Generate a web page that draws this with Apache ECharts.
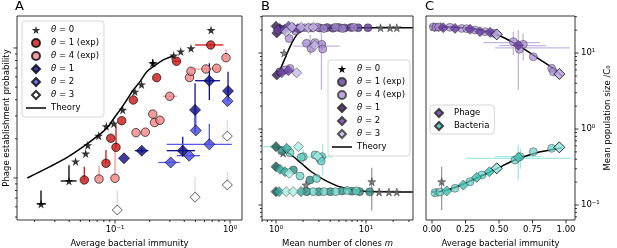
<!DOCTYPE html>
<html><head><meta charset="utf-8">
<script src="https://cdn.jsdelivr.net/npm/echarts@6/dist/echarts.min.js"></script>
<style>html,body{margin:0;padding:0;background:#fff}#c{width:617px;height:248px}</style>
</head><body><div id="c"></div>
<script>
// ================= DATA =================
// Panel A  (x: average bacterial immunity, y: establishment probability)
const aTheory = [[0.01726,0.0100],[0.0272,0.01222],[0.0393,0.01459],[0.053,0.01741],[0.0693,0.0208],[0.0847,0.0241],[0.1,0.0296],[0.1105,0.0333],[0.1265,0.0398],[0.144,0.0475],[0.165,0.0551],[0.189,0.0657],[0.2155,0.0718],[0.263,0.0809],[0.321,0.0868]];
const aTheta0 = [[0.02274,0.00631],[0.0398,0.00948],[0.0454,0.0134],[0.0556,0.01542],[0.058,0.01786],[0.0721,0.02113],[0.084,0.025],[0.0975,0.02618],[0.1167,0.0334],[0.149,0.0461],[0.17,0.0524],[0.213,0.0767],[0.324,0.0875],[0.3727,0.094],[0.458,0.0995],[0.684,0.1375]];
const aTheta1exp = [[0.0541,0.00966],[0.0835,0.01297],[0.0918,0.0202],[0.102,0.0172],[0.1144,0.0276],[0.1443,0.0398],[0.2305,0.0591],[0.3426,0.079],[0.679,0.1055]];
const aTheta4exp = [[0.0726,0.00982],[0.1,0.00995],[0.1523,0.0223],[0.1834,0.0225],[0.213,0.031],[0.2206,0.0267],[0.246,0.0278],[0.299,0.0425],[0.4446,0.0593],[0.458,0.0662],[0.618,0.0689],[0.766,0.0698],[0.923,0.0842]];
const aTheta1 = [[0.1198,0.01418],[0.1706,0.01622],[0.388,0.01622],[0.4966,0.0334],[0.661,0.056],[0.961,0.0467]];
const aTheta2 = [[0.305,0.01316],[0.4416,0.01485],[0.504,0.0232],[0.661,0.01816],[0.951,0.039]];
const aTheta3 = [[0.1047,0.00567],[0.4966,0.00711],[0.947,0.00884],[0.947,0.021]];
// error bars: [x, y, xlo, xhi, ylo, yhi]
const aErr0 = [[0.02274,0.00631,0.0209,0.0251,0.00631,0.0080],[0.0398,0.00948,0.0337,0.0464,0.00948,0.01254],[0.213,0.0767,0.200,0.230,0.072,0.082]];
const aErr1exp = [[0.0541,0.00966,null,null,0.00966,0.01222],[0.0835,0.01297,null,null,0.01297,0.0164],[0.102,0.0172,null,null,0.0172,0.0258],[0.679,0.1055,0.496,0.875,null,null],[0.3426,0.079,0.32,0.37,null,null]];
const aErr4exp = [[0.0726,0.00982,null,null,0.00982,0.01244],[0.1,0.00995,null,null,0.00995,0.0174],[0.299,0.0425,0.2614,0.346,null,null],[0.618,0.0689,0.45,0.818,null,null],[0.923,0.0842,null,null,0.0842,0.098]];
const aErr1 = [[0.1706,0.01622,0.149,0.195,0.0155,0.017],[0.388,0.01622,0.2816,0.4966,0.01459,0.0208],[0.4966,0.0334,null,null,0.0221,0.0535],[0.661,0.056,0.4966,0.8186,0.0398,0.0762],[0.961,0.0467,null,null,0.039,0.0657]];
const aErr2 = [[0.305,0.01316,0.238,0.367,null,null],[0.4416,0.01485,0.344,0.548,null,null],[0.504,0.0232,null,null,0.0232,0.0334],[0.661,0.01816,0.2816,1.035,0.01816,0.026],[0.951,0.039,null,null,0.039,0.0467]];
const aErr3 = [[0.1047,0.00567,null,null,0.00567,0.00794],[0.4966,0.00711,null,null,0.00711,0.01023],[0.947,0.00884,null,null,0.00884,0.0111],[0.947,0.021,null,null,0.021,0.028]];

// Panel B (x: mean number of clones m, y: mean population size / C0)
const bTheoryPhage = [[1.088,5.67],[1.259,8.51],[1.494,13.4],[1.77,18.2],[2.193,20.5],[3.08,21.1],[5,21.4],[10,21.5],[33,21.5]];
const bTheoryBact = [[1.196,0.53],[1.479,0.455],[1.91,0.354],[2.47,0.274],[3.48,0.213],[5.32,0.171],[8.15,0.154],[15,0.149],[33,0.148]];
const bPhageD1 = [[1.0,22.5],[1.02,18.3],[1.1,21.0],[1.02,5.13]];
const bPhageD2 = [[1.05,20.0],[1.25,20.5],[1.38,22.5],[1.55,21.5],[1.75,21.0],[1.157,5.5],[1.37,5.85]];
const bPhageD3 = [[1.3,19.0],[1.5,22.0],[1.9,21.8],[2.3,21.5],[2.6,21.8],[1.7,5.5],[2.7,12.6]];
const bPhageC1 = [[1.15,20.5],[1.8,21.0],[2.5,21.5],[3.1,21.3],[3.7,21.6],[4.3,21.2],[5.0,21.7],[5.8,21.4],[6.8,21.6],[8.2,21.5],[10.5,21.5],[1.108,5.68]];
const bPhageC4 = [[1.4,15.5],[1.65,19.5],[2.1,21.5],[2.9,21.8],[3.4,21.0],[4.6,21.8],[5.5,21.0],[7.3,21.8],[1.26,5.98],[1.43,6.27],[2.19,13.4],[2.71,13.7],[3.22,13.0],[3.3,11.3],[2.45,11.5]];
const bPhageStar = [[2.3,22.0],[14.5,21.5],[18.5,21.5],[22,21.5],[1.23,10.0]];
const bBactD1 = [[1.0,0.586],[1.0,0.319],[1.0,0.15]];
const bBactD2 = [[1.31,0.557],[1.108,0.295],[1.26,0.274],[1.08,0.15],[1.9,0.15]];
const bBactD3 = [[1.77,0.586],[1.405,0.261],[1.3,0.15],[1.55,0.15],[2.9,0.44]];
const bBactC1 = [[1.157,0.518],[1.56,0.289],[2.385,0.213],[2.2,0.15],[3.0,0.15],[4.0,0.15],[5.4,0.153],[7.0,0.152],[8.5,0.15],[11,0.149]];
const bBactC4 = [[1.43,0.488],[2.01,0.432],[2.71,0.455],[3.22,0.432],[1.85,0.241],[2.83,0.224],[1.91,0.424],[3.06,0.41],[2.6,0.15],[3.4,0.15],[4.6,0.15],[6.2,0.155],[7.8,0.153],[3.18,0.38]];
const bBactStar = [[1.2,0.483],[2.15,0.184],[11.6,0.203],[14,0.148],[18,0.148],[22,0.148]];
const bErrPhage = [[3.2,12.3,1.55,5.1,3.26,18.3],[2.4,13.4,1.9,3.6,9.4,17.3]];
const bErrBact = [[1.0,0.586,0.7,1.5,null,null],[3.3,0.43,1.6,4.2,0.25,0.62],[2.0,0.43,null,null,0.35,0.55],[1.3,0.3,1.1,1.6,null,null]];
const bErrStar = [[11.6,0.203,null,null,0.085,0.31]];

// Panel C (x: average bacterial immunity, y: mean population size / C0)
const cTheoryPhage = [[0,22.2],[0.25,21.5],[0.4,19.5],[0.5,17.0],[0.6,13.9],[0.7,10.9],[0.8,8.34],[0.9,6.35],[0.97,4.98]];
const cTheoryBact = [[0,0.148],[0.1,0.155],[0.2,0.178],[0.3,0.213],[0.4,0.256],[0.5,0.311],[0.6,0.379],[0.7,0.441],[0.8,0.498],[0.9,0.537],[0.97,0.562]];
const cPhageDiamond = [[0.084,21.5],[0.172,21.1],[0.284,20.5],[0.358,19.1],[0.433,18.7],[0.644,12.7]];
const cPhageBig = [[0.483,17.6],[0.95,5.3]];
const cPhageCircle = [[0.01,22.0],[0.03,21.9],[0.05,22.0],[0.134,21.8],[0.222,21.1],[0.259,20.9],[0.321,20.1],[0.396,19.1],[0.458,18.2],[0.607,14.1],[0.681,13.0],[0.652,11.2],[0.756,8.94],[0.893,6.29],[0.905,5.68]];
const cPhageStar = [[0.01,22.2],[0.035,21.6],[0.065,22.3]];
const cBactDiamond = [[0.11,0.153],[0.234,0.183],[0.333,0.231],[0.428,0.274],[0.644,0.424]];
const cBactBig = [[0.483,0.304],[0.95,0.574]];
const cBactCircle = [[0.022,0.145],[0.06,0.148],[0.172,0.166],[0.284,0.203],[0.371,0.248],[0.619,0.39],[0.657,0.432],[0.756,0.503],[0.893,0.557]];
const cBactStar = [[0.072,0.203],[0.03,0.147]];
const cErrPhage = [[0.607,13.7,0.383,0.806,null,null],[0.652,11.7,0.47,1.03,null,null],[0.644,12.7,null,null,3.26,20.1],[0.607,14.1,null,null,9.4,19.1],[0.68,12.5,0.5,0.85,8,18]];
const cErrBact = [[0.65,0.412,0.259,1.03,null,null],[0.64,0.432,0.47,0.81,null,null],[0.644,0.42,null,null,0.213,0.616],[0.66,0.43,null,null,0.3,0.55],[0.3,0.21,0.26,0.34,0.19,0.23],[0.4,0.25,0.36,0.44,0.23,0.28]];
const cErrStar = [[0.072,0.203,null,null,0.0858,0.319]];

const cXTicks = [0, 0.25, 0.5, 0.75, 1.0];

// axis ranges
const aX = [0.01406, 1.271], aY = [0.00475, 0.1762];
const bX = [0.699, 33.3], popY = [0.0635, 30.7];
const cX = [-0.0448, 1.067];

// ================= CHART =================
const FONT = 'DejaVu Sans';
const STAR = 'path://M50,0 L61,35 L98,35 L68,57 L79,91 L50,70 L21,91 L32,57 L2,35 L39,35 Z';
const DIAM = 'path://M5,0 L10,5 L5,10 L0,5 Z';
const LINE = 'path://M0,0 L20,0 L20,1.5 L0,1.5 Z';
const SUP = {'-':'\u207B','0':'\u2070','1':'\u00B9','2':'\u00B2','3':'\u00B3'};
function decadeLabel(v){ const e=Math.log10(v), r=Math.round(e); if(Math.abs(e-r)>1e-6) return ''; return '10'+String(r).split('').map(c=>SUP[c]).join(''); }
function logTicks(r){ const out=[]; for(let e=Math.floor(Math.log10(r[0])); e<=Math.ceil(Math.log10(r[1])); e++){ for(let k=1;k<=9;k++){ const v=k*Math.pow(10,e); if(v>=r[0]&&v<=r[1]) out.push([v,k===1?3.5:2]); } } return out; }

function tickSeries(idx, dir, ticks, ref){
  return {type:'custom', xAxisIndex:idx, yAxisIndex:idx, silent:true, clip:false, z:10,
    data: ticks.map(t => dir==='x' ? [t[0], ref, t[1]] : [ref, t[0], t[1]]),
    renderItem(params, api){
      const cs = params.coordSys; const len = api.value(2);
      const p = api.coord([api.value(0), api.value(1)]);
      let s;
      if(dir==='x'){ const yb=cs.y+cs.height; s={x1:p[0],y1:yb,x2:p[0],y2:yb+len}; }
      else if(dir==='yl'){ s={x1:cs.x,y1:p[1],x2:cs.x-len,y2:p[1]}; }
      else { const xr=cs.x+cs.width; s={x1:xr,y1:p[1],x2:xr+len,y2:p[1]}; }
      return {type:'line', shape:s, style:{stroke:'#000', lineWidth:0.8}};
    }};
}
function errSeries(data, color, idx, width, opacity){
  return {type:'custom', xAxisIndex:idx, yAxisIndex:idx, silent:true, clip:true, z:1, data,
    encode:{x:0,y:1},
    renderItem(params, api){
      const x=api.value(0), y=api.value(1), xl=api.value(2), xh=api.value(3), yl=api.value(4), yh=api.value(5);
      const st={stroke:color, lineWidth:width, opacity:opacity};
      const ch=[];
      const okX = isFinite(xl)&&isFinite(xh)&&(idx===2 || (xl>0&&xh>0));
      if(okX){ const a=api.coord([xl,y]), b=api.coord([xh,y]); ch.push({type:'line',shape:{x1:a[0],y1:a[1],x2:b[0],y2:b[1]},style:st}); }
      if(isFinite(yl)&&isFinite(yh)&&yl>0&&yh>0){ const a=api.coord([x,yl]), b=api.coord([x,yh]); ch.push({type:'line',shape:{x1:a[0],y1:a[1],x2:b[0],y2:b[1]},style:st}); }
      return {type:'group', children:ch};
    }};
}
function sc(name, data, idx, symbol, size, color, extra){
  return Object.assign({type:'scatter', name, data, xAxisIndex:idx, yAxisIndex:idx, symbol, symbolSize:size, silent:true, z:3,
    itemStyle:{color, borderColor:'#000', borderWidth:0.8}}, extra||{});
}
function theory(name, data, idx){
  return {type:'line', name, data, xAxisIndex:idx, yAxisIndex:idx, symbol:'none', smooth:0.35, silent:true, z:2,
    lineStyle:{color:'#000', width:1.5}, itemStyle:{color:'#000'}};
}
const soft = (c, op) => ({itemStyle:{color:c, borderColor:'#2a2a2a', borderWidth:0.6, opacity:op}});

const P = {d1:'#3d2459', d2:'#6b42a8', d3:'#c8b8e8', c1:'#5e3d92', c4:'#a68ad4'};
const T = {d1:'#1d5f58', d2:'#37a99c', d3:'#aaf0e6', c1:'#2f8d84', c4:'#66d2c6'};

const txt = {fontFamily:FONT, fontSize:8.5, color:'#000'};
const legendFmt = n => n.split('#')[0].replace('\u03B8','{it|\u03B8}');
const legendBase = {orient:'vertical', itemWidth:20, itemHeight:8, itemGap:3, padding:[4,5,4,4], symbolKeepAspect:true,
  backgroundColor:'rgba(255,255,255,0.9)', borderColor:'#cccccc', borderWidth:0.8, borderRadius:3, selectedMode:false,
  formatter: legendFmt, textStyle:Object.assign({}, txt, {lineHeight:10, rich:{it:{fontFamily:FONT, fontSize:8.5, fontStyle:'italic', lineHeight:10}}})};
const L = (name, icon, extra) => Object.assign({name, icon}, extra||{});

const gridBase = {show:true, borderColor:'#000', borderWidth:0.8, backgroundColor:'transparent', containLabel:false, outerBoundsMode:'none'};
const logAxis = (gi, r, extra) => Object.assign({type:'log', logBase:10, gridIndex:gi, min:r[0], max:r[1],
  axisLine:{show:false}, axisTick:{show:false}, splitLine:{show:false}, minorTick:{show:false},
  axisLabel:{show:false}, nameTextStyle:txt}, extra||{});

const option = {
  animation:false,
  backgroundColor:'#fff',
  title:[
    {text:'A', left:15, top:0, padding:0, textStyle:{fontFamily:FONT, fontSize:13, fontWeight:'normal', color:'#000'}},
    {text:'B', left:261, top:0, padding:0, textStyle:{fontFamily:FONT, fontSize:13, fontWeight:'normal', color:'#000'}},
    {text:'C', left:425, top:0, padding:0, textStyle:{fontFamily:FONT, fontSize:13, fontWeight:'normal', color:'#000'}}
  ],
  grid:[
    Object.assign({left:17, top:16, width:225, height:204}, gridBase),
    Object.assign({left:262, top:16, width:151, height:204}, gridBase),
    Object.assign({left:426, top:16, width:149, height:204}, gridBase)
  ],
  xAxis:[
    logAxis(0, aX, {name:'Average bacterial immunity', nameLocation:'middle', nameGap:15,
      axisLabel:{show:true, formatter:decadeLabel, margin:5, fontFamily:FONT, fontSize:8.5, color:'#000', showMinLabel:false, showMaxLabel:false}}),
    logAxis(1, bX, {name:'Mean number of clones {i|m}', nameLocation:'middle', nameGap:15,
      nameTextStyle:Object.assign({}, txt, {rich:{i:{fontFamily:FONT, fontSize:8.5, fontStyle:'italic'}}}),
      axisLabel:{show:true, formatter:decadeLabel, margin:5, fontFamily:FONT, fontSize:8.5, color:'#000', showMinLabel:false, showMaxLabel:false}}),
    {type:'value', gridIndex:2, min:cX[0], max:cX[1], axisLine:{show:false}, axisTick:{show:false}, splitLine:{show:false},
      name:'Average bacterial immunity', nameLocation:'middle', nameGap:15, nameTextStyle:txt,
      axisLabel:{show:true, customValues:cXTicks, formatter:v=>Number(v).toFixed(2), margin:5, fontFamily:FONT, fontSize:8.5, color:'#000'}}
  ],
  yAxis:[
    logAxis(0, aY, {name:'Phage establishment probability', nameLocation:'middle', nameGap:6, nameRotate:90}),
    logAxis(1, popY),
    logAxis(2, popY, {position:'right', name:'Mean population size /C\u2080', nameLocation:'middle', nameGap:26, nameRotate:90,
      axisLabel:{show:true, formatter:decadeLabel, margin:6, fontFamily:FONT, fontSize:8.5, color:'#000', showMinLabel:false, showMaxLabel:false}})
  ],
  legend:[
    Object.assign({}, legendBase, {left:22, top:21,
      data:[L('\u03B8 = 0#A',STAR), L('\u03B8 = 1 (exp)#A','circle'), L('\u03B8 = 4 (exp)#A','circle'),
            L('\u03B8 = 1#A',DIAM), L('\u03B8 = 2#A',DIAM), L('\u03B8 = 3#A',DIAM), L('Theory#A',LINE)]}),
    Object.assign({}, legendBase, {left:328, top:60,
      data:[L('\u03B8 = 0#B',STAR,{itemStyle:{color:'#000', opacity:1, borderWidth:0}}), L('\u03B8 = 1 (exp)#B','circle'), L('\u03B8 = 4 (exp)#B','circle'),
            L('\u03B8 = 1#B',DIAM), L('\u03B8 = 2#B',DIAM), L('\u03B8 = 3#B',DIAM), L('Theory#B',LINE)]}),
    Object.assign({}, legendBase, {left:430, top:105, padding:[3,5,3,4], data:[L('Phage',DIAM), L('Bacteria',DIAM)]})
  ],
  series:[
    // ---- panel A ----
    errSeries(aErr0, '#000000', 0, 1.3, 1),
    errSeries(aErr1exp, '#d01515', 0, 1.3, 1),
    errSeries(aErr4exp, '#f29a9a', 0, 1.3, 1),
    errSeries(aErr1, '#10108e', 0, 1.3, 1),
    errSeries(aErr2, '#5858ee', 0, 1.3, 1),
    errSeries(aErr3, '#d9d9f0', 0, 1.3, 1),
    theory('Theory#A', aTheory, 0),
    sc('\u03B8 = 0#A', aTheta0, 0, STAR, 9, '#000', {itemStyle:{color:'#000', borderWidth:0}}),
    sc('\u03B8 = 1 (exp)#A', aTheta1exp, 0, 'circle', 8.5, '#c81414'),
    sc('\u03B8 = 4 (exp)#A', aTheta4exp, 0, 'circle', 8.5, '#f08484'),
    sc('\u03B8 = 1#A', aTheta1, 0, 'diamond', 11, '#0c0c88'),
    sc('\u03B8 = 2#A', aTheta2, 0, 'diamond', 11, '#4848e4'),
    sc('\u03B8 = 3#A', aTheta3, 0, 'diamond', 10, '#ffffff'),
    // ---- panel B ----
    errSeries(bErrPhage, '#b7a2dc', 1, 1.3, 0.8),
    errSeries(bErrBact, '#8fe3d9', 1, 1.3, 0.8),
    errSeries(bErrStar, '#777777', 1, 1.2, 0.8),
    theory('Theory#B', bTheoryPhage, 1),
    theory('bTheoryBact', bTheoryBact, 1),
    sc('\u03B8 = 0#B', bPhageStar, 1, STAR, 8, '#666', soft('#666', 0.8)),
    sc('bBactStar', bBactStar, 1, STAR, 8, '#666', soft('#666', 0.8)),
    sc('\u03B8 = 1 (exp)#B', bPhageC1, 1, 'circle', 8, P.c1, soft(P.c1, 0.8)),
    sc('\u03B8 = 4 (exp)#B', bPhageC4, 1, 'circle', 8, P.c4, soft(P.c4, 0.75)),
    sc('\u03B8 = 1#B', bPhageD1, 1, 'diamond', 10, P.d1, soft(P.d1, 0.85)),
    sc('\u03B8 = 2#B', bPhageD2, 1, 'diamond', 10, P.d2, soft(P.d2, 0.8)),
    sc('\u03B8 = 3#B', bPhageD3, 1, 'diamond', 10, P.d3, soft(P.d3, 0.8)),
    sc('bBactC1', bBactC1, 1, 'circle', 8, T.c1, soft(T.c1, 0.8)),
    sc('bBactC4', bBactC4, 1, 'circle', 8, T.c4, soft(T.c4, 0.75)),
    sc('bBactD1', bBactD1, 1, 'diamond', 10, T.d1, soft(T.d1, 0.85)),
    sc('bBactD2', bBactD2, 1, 'diamond', 10, T.d2, soft(T.d2, 0.8)),
    sc('bBactD3', bBactD3, 1, 'diamond', 10, T.d3, soft(T.d3, 0.8)),
    // ---- panel C ----
    errSeries(cErrPhage, '#b7a2dc', 2, 1.3, 0.8),
    errSeries(cErrBact, '#8fe3d9', 2, 1.3, 0.8),
    errSeries(cErrStar, '#777777', 2, 1.2, 0.8),
    theory('cTheoryPhage', cTheoryPhage, 2),
    theory('cTheoryBact', cTheoryBact, 2),
    sc('cPhageStar', cPhageStar, 2, STAR, 8, '#444', soft('#444', 0.8)),
    sc('cBactStar', cBactStar, 2, STAR, 8, '#666', soft('#666', 0.8)),
    sc('cPhageCircle', cPhageCircle, 2, 'circle', 8, P.c4, soft(P.c4, 0.7)),
    sc('cBactCircle', cBactCircle, 2, 'circle', 8, T.c4, soft(T.c4, 0.7)),
    sc('Phage', cPhageDiamond, 2, 'diamond', 10, '#6a3fa3', soft('#6a3fa3', 0.85)),
    sc('Bacteria', cBactDiamond, 2, 'diamond', 10, '#42c6b6', soft('#42c6b6', 0.85)),
    sc('cPhageBig', cPhageBig, 2, 'diamond', 11, '#b9a4e0', {itemStyle:{color:'#b9a4e0', borderColor:'#000', borderWidth:1}}),
    sc('cBactBig', cBactBig, 2, 'diamond', 11, '#8fe6dc', {itemStyle:{color:'#8fe6dc', borderColor:'#000', borderWidth:1}}),
    // ---- axis ticks (major + minor) ----
    tickSeries(0, 'x', logTicks(aX), aY[0]),
    tickSeries(0, 'yl', logTicks(aY), aX[0]),
    tickSeries(1, 'x', logTicks(bX), popY[0]),
    tickSeries(1, 'yl', logTicks(popY), bX[0]),
    tickSeries(2, 'x', cXTicks.map(v=>[v,3.5]), popY[0]),
    tickSeries(2, 'yr', logTicks(popY), cX[0])
  ]
};
const chart = echarts.init(document.getElementById('c'), null, {renderer:'canvas', width:617, height:248});
chart.setOption(option);
</script></body></html>
